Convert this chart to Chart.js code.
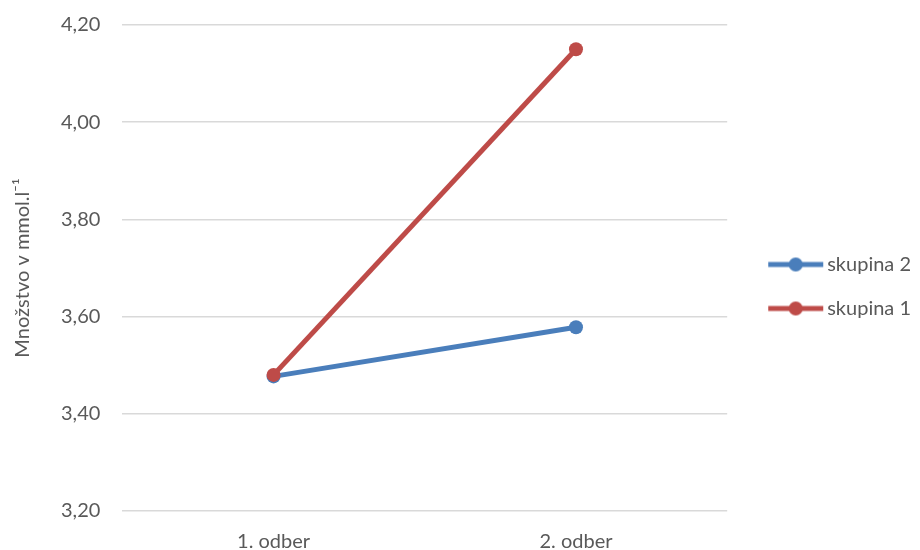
<!DOCTYPE html>
<html>
<head>
<meta charset="utf-8">
<script src="https://cdn.jsdelivr.net/npm/chart.js@4/dist/chart.umd.min.js"></script>
<style>
  html, body { margin: 0; padding: 0; background: #ffffff; }
  #wrap { width: 920px; height: 550px; }
</style>
</head>
<body>
<div id="wrap"><canvas id="c" width="920" height="550"></canvas></div>
<script>
// Odbery (sampling rounds) and group means in mmol/l
const categories = ['1. odber', '2. odber'];
const skupina1 = [3.48, 4.15];
const skupina2 = [3.477, 3.578];
const yTicks = [3.2, 3.4, 3.6, 3.8, 4.0, 4.2];

const BLUE = '#4a7ebb';
const RED = '#be4b48';
const TEXT = '#595959';
const FONT = 'Lato, "Open Sans", sans-serif';
const LINE_W = 5;

// Legend swatch: a short line with a round marker, drawn in the right part of the image
function legendSwatch(color) {
  const cv = document.createElement('canvas');
  cv.width = 82; cv.height = 16;
  const g = cv.getContext('2d');
  g.strokeStyle = color;
  g.lineWidth = LINE_W;
  g.lineCap = 'butt';
  g.beginPath(); g.moveTo(25, 8); g.lineTo(80, 8); g.stroke();
  g.fillStyle = color;
  g.beginPath(); g.arc(52.5, 8, 7, 0, Math.PI * 2); g.fill();
  return cv;
}
const swatches = { 'skupina 1': legendSwatch(RED), 'skupina 2': legendSwatch(BLUE) };

new Chart(document.getElementById('c'), {
  type: 'line',
  data: {
    labels: categories,
    datasets: [
      { label: 'skupina 1', data: skupina1, borderColor: RED, backgroundColor: RED,
        borderWidth: LINE_W, pointRadius: 7, pointHoverRadius: 7, pointBackgroundColor: RED,
        pointBorderWidth: 0, tension: 0 },
      { label: 'skupina 2', data: skupina2, borderColor: BLUE, backgroundColor: BLUE,
        borderWidth: LINE_W, pointRadius: 7, pointHoverRadius: 7, pointBackgroundColor: BLUE,
        pointBorderWidth: 0, tension: 0 }
    ]
  },
  options: {
    responsive: false,
    animation: false,
    layout: { padding: { top: 0, right: -1, left: 11, bottom: -23 } },
    plugins: {
      tooltip: { enabled: false },
      legend: {
        position: 'right',
        align: 'center',
        reverse: true,
        labels: {
          usePointStyle: true,
          pointStyleWidth: 66,
          padding: 24,
          color: TEXT,
          font: { family: FONT, size: 20 },
          generateLabels(chart) {
            return chart.data.datasets.map((ds, i) => ({
              text: ds.label,
              fillStyle: ds.borderColor,
              strokeStyle: ds.borderColor,
              fontColor: TEXT,
              lineWidth: 0,
              pointStyle: swatches[ds.label],
              hidden: false,
              datasetIndex: i
            }));
          }
        }
      }
    },
    scales: {
      x: {
        type: 'category',
        offset: true,
        grid: { display: false, drawTicks: false },
        border: { display: false },
        ticks: { color: TEXT, font: { family: FONT, size: 20 }, padding: 19 }
      },
      y: {
        min: 3.2,
        max: 4.2,
        afterBuildTicks(scale) { scale.ticks = yTicks.map(v => ({ value: v })); },
        grid: { color: '#d9d9d9', lineWidth: 1.5, drawTicks: true, tickLength: 9, tickColor: 'rgba(0,0,0,0)' },
        border: { display: false },
        ticks: {
          color: TEXT,
          font: { family: FONT, size: 20 },
          padding: 13,
          callback: v => Number(v).toFixed(2).replace('.', ',')
        },
        title: {
          display: true,
          text: 'Množstvo v mmol.l⁻¹',
          color: TEXT,
          font: { family: FONT, size: 20 },
          padding: { top: 0, bottom: 13 }
        }
      }
    }
  }
});
</script>
</body>
</html>
